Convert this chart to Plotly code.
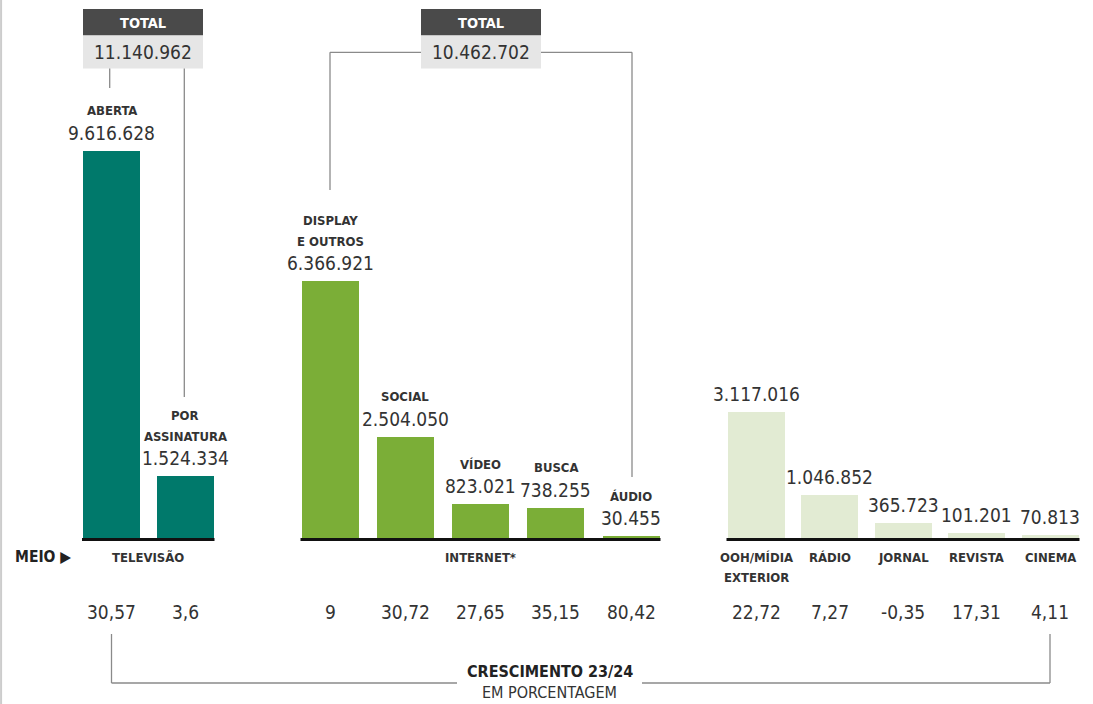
import plotly.graph_objects as go

# ---------------- data ----------------
names = ["ABERTA", "POR<br>ASSINATURA", "DISPLAY<br>E OUTROS", "SOCIAL", "VÍDEO", "BUSCA", "ÁUDIO",
         "OOH/MÍDIA<br>EXTERIOR", "RÁDIO", "JORNAL", "REVISTA", "CINEMA"]
values = [9616628, 1524334, 6366921, 2504050, 823021, 738255, 30455,
          3117016, 1046852, 365723, 101201, 70813]
value_labels = ["9.616.628", "1.524.334", "6.366.921", "2.504.050", "823.021", "738.255", "30.455",
                "3.117.016", "1.046.852", "365.723", "101.201", "70.813"]
growth = ["30,57", "3,6", "9", "30,72", "27,65", "35,15", "80,42",
          "22,72", "7,27", "-0,35", "17,31", "4,11"]
groups = ["TELEVISÃO", "INTERNET*", "OUTROS"]
group_of = [0, 0, 1, 1, 1, 1, 1, 2, 2, 2, 2, 2]
total_labels = ["11.140.962", "10.462.702"]

# ---------------- layout constants ----------------
W, H = 1093, 704
BASE_PX = 537.5          # baseline pixel row
PX_PER_UNIT = 387 / 9616628
group_start = [111.5, 330, 756]
group_step = [73.5, 75.25, 73.5]
BAR_W = 57
colors = ["#00796b", "#7bae37", "#e2ebd3"]
TXT = "#333333"
LINE = "#8a8a8a"
FONT = "DejaVu Sans Condensed, Liberation Sans Narrow, Arial Narrow, sans-serif"
VAL_SIZE = 19
NAME_SIZE = 13

xs = []
count = [0, 0, 0]
for g in group_of:
    xs.append(group_start[g] + group_step[g] * count[g])
    count[g] += 1

ymax = BASE_PX / PX_PER_UNIT
ymin = -(H - BASE_PX) / PX_PER_UNIT


def py(p):
    return 1 - p / H


fig = go.Figure()
fig.add_trace(go.Bar(
    x=xs, y=values, width=BAR_W,
    marker=dict(color=[colors[g] for g in group_of], line=dict(width=0)),
    hoverinfo="skip", showlegend=False,
))

ann = []
shapes = []

# value + name labels
for i, (x, v) in enumerate(zip(xs, values)):
    ann.append(dict(x=x, y=v, xref="x", yref="y", text=value_labels[i], showarrow=False,
                    yanchor="middle", yshift=18, font=dict(size=VAL_SIZE, color=TXT)))
    lines = names[i].split("<br>")
    if group_of[i] < 2:
        for k, ln in enumerate(reversed(lines)):
            ann.append(dict(x=x, y=v, xref="x", yref="y", text="<b>%s</b>" % ln, showarrow=False,
                            yanchor="middle", yshift=40 + 21 * k,
                            font=dict(size=NAME_SIZE, color=TXT)))
    else:
        for k, ln in enumerate(lines):
            ann.append(dict(x=x, y=py(557 + 20 * k), xref="x", yref="paper", text="<b>%s</b>" % ln,
                            showarrow=False, yanchor="middle",
                            font=dict(size=NAME_SIZE, color=TXT)))
    ann.append(dict(x=x, y=py(612), xref="x", yref="paper", text=growth[i], showarrow=False,
                    yanchor="middle", font=dict(size=VAL_SIZE, color=TXT)))

# baselines and group labels
for g in range(3):
    gx = [x for x, gg in zip(xs, group_of) if gg == g]
    shapes.append(dict(type="line", xref="x", yref="paper", x0=gx[0] - BAR_W / 2 - 1,
                       x1=gx[-1] + BAR_W / 2 + 1, y0=py(539.5), y1=py(539.5),
                       line=dict(color="#111111", width=3)))
    if g < 2:
        ann.append(dict(x=(gx[0] + gx[-1]) / 2, y=py(557), xref="x", yref="paper",
                        text="<b>%s</b>" % groups[g], showarrow=False, yanchor="middle",
                        font=dict(size=NAME_SIZE, color=TXT)))

ann.append(dict(x=13, y=py(557), xref="x", yref="paper", text="<b>MEIO ▶</b>", showarrow=False,
                xanchor="left", yanchor="middle", font=dict(size=15.5, color="#222222")))

# total boxes
box_x = [(83, 203), (421, 541)]
for t in range(2):
    x0, x1 = box_x[t]
    shapes.append(dict(type="rect", xref="x", yref="paper", x0=x0, x1=x1, y0=py(35.5), y1=py(9),
                       fillcolor="#4a4a4a", line=dict(width=0)))
    shapes.append(dict(type="rect", xref="x", yref="paper", x0=x0, x1=x1, y0=py(68.5), y1=py(35.5),
                       fillcolor="#e6e6e6", line=dict(width=0)))
    ann.append(dict(x=(x0 + x1) / 2, y=py(22.5), xref="x", yref="paper", text="<b>TOTAL</b>",
                    showarrow=False, yanchor="middle", font=dict(size=14.5, color="white")))
    ann.append(dict(x=(x0 + x1) / 2, y=py(52), xref="x", yref="paper", text=total_labels[t],
                    showarrow=False, yanchor="middle", font=dict(size=VAL_SIZE, color=TXT)))


def seg(x0, y0, x1, y1):
    shapes.append(dict(type="line", xref="x", yref="paper", x0=x0, x1=x1, y0=py(y0), y1=py(y1),
                       line=dict(color=LINE, width=1.3)))


# TV connectors
seg(109.7, 68.5, 109.7, 88)
seg(xs[1] - 0.7, 68.5, xs[1] - 0.7, 397)
# Internet connectors
seg(xs[2], 52.3, 421, 52.3)
seg(541, 52.3, xs[6] + 1, 52.3)
seg(xs[2], 52.3, xs[2], 190)
seg(xs[6] + 1, 52.3, xs[6] + 1, 477)

# growth bracket (from first to last growth label)
bl = xs[0]
br = xs[-1]
seg(bl, 634, bl, 683)
seg(bl, 683, 457, 683)
seg(642, 683, br, 683)
seg(br, 683, br, 634)
ann.append(dict(x=550, y=py(671), xref="x", yref="paper", text="<b>CRESCIMENTO 23/24</b>",
                showarrow=False, yanchor="middle", font=dict(size=16, color="#222222")))
ann.append(dict(x=549, y=py(692), xref="x", yref="paper", text="EM PORCENTAGEM",
                showarrow=False, yanchor="middle", font=dict(size=16, color=TXT)))

# left border
shapes.append(dict(type="line", xref="paper", yref="paper", x0=0.001, x1=0.001, y0=0, y1=1,
                   line=dict(color="#cccccc", width=2)))

fig.update_layout(
    width=W, height=H, margin=dict(l=0, r=0, t=0, b=0),
    paper_bgcolor="white", plot_bgcolor="white",
    font=dict(family=FONT, color=TXT),
    xaxis=dict(range=[0, W], visible=False, fixedrange=True),
    yaxis=dict(range=[ymin, ymax], visible=False, fixedrange=True),
    annotations=ann, shapes=shapes, bargap=0,
)
fig.write_html("out.html", config={"displayModeBar": False},
               post_script="document.body.style.margin='0';document.body.style.overflow='hidden';")
